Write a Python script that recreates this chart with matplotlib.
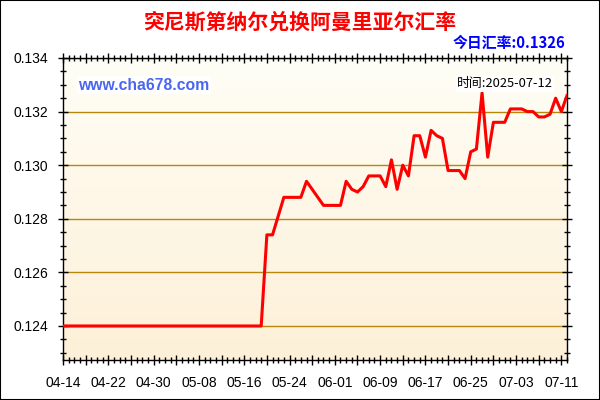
import matplotlib
matplotlib.use("Agg")
import matplotlib.pyplot as plt
import matplotlib.dates as mdates
import matplotlib.ticker as mticker
import numpy as np
import pandas as pd
from matplotlib.colors import LinearSegmentedColormap
from matplotlib.patches import Rectangle

plt.rcParams['font.family'] = ['Noto Sans CJK SC', 'DejaVu Sans']

# texts
title = "突尼斯第纳尔兑换阿曼里亚尔汇率"
today_rate = "今日汇率:0.1326"
site = "www.cha678.com"
stamp = "时间:2025-07-12"

# daily rates from 04-14 to 07-12
dates = pd.date_range("2025-04-14", "2025-07-12", freq="D")
rates = [
    0.1240, 0.1240, 0.1240, 0.1240, 0.1240, 0.1240, 0.1240, 0.1240, 0.1240, 0.1240,
    0.1240, 0.1240, 0.1240, 0.1240, 0.1240, 0.1240, 0.1240, 0.1240, 0.1240, 0.1240,
    0.1240, 0.1240, 0.1240, 0.1240, 0.1240, 0.1240, 0.1240, 0.1240, 0.1240, 0.1240,
    0.1240, 0.1240, 0.1240, 0.1240, 0.1240, 0.1240, 0.1274, 0.1274, 0.1281, 0.1288,
    0.1288, 0.1288, 0.1288, 0.1294, 0.1291, 0.1288, 0.1285, 0.1285, 0.1285, 0.1285,
    0.1294, 0.1291, 0.1290, 0.1292, 0.1296, 0.1296, 0.1296, 0.1292, 0.1302, 0.1291,
    0.1300, 0.1296, 0.1311, 0.1311, 0.1303, 0.1313, 0.1311, 0.1310, 0.1298, 0.1298,
    0.1298, 0.1295, 0.1305, 0.1306, 0.1327, 0.1303, 0.1316, 0.1316, 0.1316, 0.1321,
    0.1321, 0.1321, 0.1320, 0.1320, 0.1318, 0.1318, 0.1319, 0.1325, 0.1320, 0.1326,
]
yticks = [0.124, 0.126, 0.128, 0.130, 0.132, 0.134]
xticks = pd.date_range("2025-04-14", "2025-07-11", freq="4D")
xlabels = [d.strftime("%m-%d") if i % 2 == 0 else "" for i, d in enumerate(xticks)]

fig = plt.figure(figsize=(6, 4), dpi=100)
ax = fig.add_axes([63 / 600, 40 / 400, 504 / 600, 302 / 400])

# cream gradient background
cmap = LinearSegmentedColormap.from_list("bg", ["#fffef6", "#fdf0d8"])
ax.imshow(np.linspace(0, 1, 256).reshape(-1, 1), cmap=cmap, aspect="auto",
          extent=[0, 1, 0, 1], transform=ax.transAxes, zorder=0)

for v in yticks:
    ax.axhline(v, color="#b8860b", lw=1, zorder=1)

ax.plot(dates, rates, color="#ff0000", lw=2.2, zorder=3)

ax.set_xlim(dates[0], dates[-1])
ax.set_ylim(0.12273, 0.134)

ax.xaxis.set_major_locator(mticker.FixedLocator(mdates.date2num(xticks)))
ax.xaxis.set_major_formatter(mticker.FixedFormatter(xlabels))
ax.xaxis.set_minor_locator(mdates.DayLocator())
ax.set_yticks(yticks)
ax.set_yticklabels(["%.3f" % v for v in yticks])
ax.yaxis.set_minor_locator(mticker.MultipleLocator(0.0005))

ax.tick_params(axis="both", which="both", direction="inout", top=True, right=True,
               labelsize=10, colors="black")
ax.tick_params(axis="both", which="major", length=7, width=1)
ax.tick_params(axis="both", which="minor", length=5, width=1)
ax.tick_params(axis="x", which="major", pad=8)
ax.tick_params(axis="y", which="major", pad=7)
for lab in ax.get_xticklabels() + ax.get_yticklabels():
    lab.set_family(["Liberation Sans", "DejaVu Sans"])
for s in ax.spines.values():
    s.set_color("black")
    s.set_linewidth(1)

fig.text(0.5, 1 - 22 / 400, title, ha="center", va="center", color="#ff0000",
         fontsize=15, fontweight="bold")
fig.text(565 / 600, 1 - 43 / 400, today_rate, ha="right", va="center",
         color="#0000ff", fontsize=10.7, fontweight="bold")
ax.text(0.03, 0.91, site, transform=ax.transAxes, ha="left", va="center",
        color="#4a66ee", fontsize=11.3, fontweight="bold",
        family=["Liberation Sans", "DejaVu Sans"],
        bbox=dict(facecolor="white", edgecolor="none", pad=1), zorder=4)
ax.text(0.877, 0.915, stamp, transform=ax.transAxes, ha="center", va="center",
        color="black", fontsize=9.3,
        bbox=dict(facecolor="white", edgecolor="none", pad=1), zorder=4)

fig.patches.append(Rectangle((0, 0), 1, 1, transform=fig.transFigure, fill=False,
                             edgecolor="black", lw=1.5))

fig.savefig("out.png", dpi=100)
